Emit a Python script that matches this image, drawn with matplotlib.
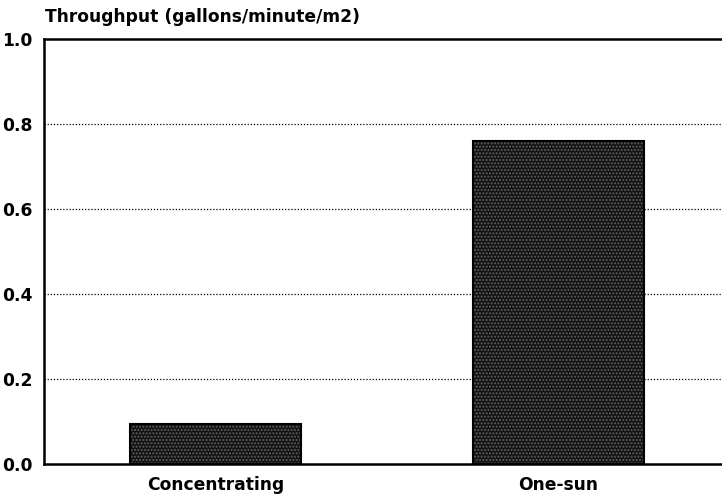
import matplotlib.pyplot as plt
import numpy as np

categories = ["Concentrating", "One-sun"]
throughput = [0.095, 0.76]
yticks = [0.0, 0.2, 0.4, 0.6, 0.8, 1.0]

plt.rcParams['font.family'] = ['DejaVu Sans']
plt.rcParams['font.weight'] = 'bold'
plt.rcParams['hatch.linewidth'] = 1.0

fig = plt.figure(figsize=(7.22, 4.95), dpi=100)
ax = fig.add_axes([44 / 722, 1 - 464 / 495, 686 / 722, 425 / 495])

x = np.arange(len(categories))
# dotted screen fill, then a black outline
ax.bar(x, throughput, width=0.5, color='#121212', hatch='.....',
       edgecolor='#606060', linewidth=0, zorder=3)
ax.bar(x, throughput, width=0.5, fill=False, edgecolor='black',
       linewidth=1.5, zorder=4)

ax.set_xlim(-0.5, 1.5)
ax.set_ylim(0, 1.0)
ax.set_yticks(yticks)
ax.set_yticklabels([f"{v:.1f}" for v in yticks], fontsize=12.3, fontweight='bold')
ax.set_xticks(x)
ax.set_xticklabels(categories, fontsize=12.3, fontweight='bold')
ax.tick_params(axis='y', length=0, pad=8)
ax.tick_params(axis='x', length=0, pad=9)

for v in yticks[1:-1]:
    ax.axhline(v, color='black', linestyle=(0, (1, 1.5)), linewidth=0.9, zorder=1)

for s in ['left', 'bottom', 'top']:
    ax.spines[s].set_linewidth(1.8)
ax.spines['right'].set_visible(False)

fig.text(45 / 722, 1 - 17 / 495, "Throughput (gallons/minute/m2)",
         fontsize=12.3, fontweight='bold', va='center', ha='left')

fig.savefig("out.png", dpi=100)
